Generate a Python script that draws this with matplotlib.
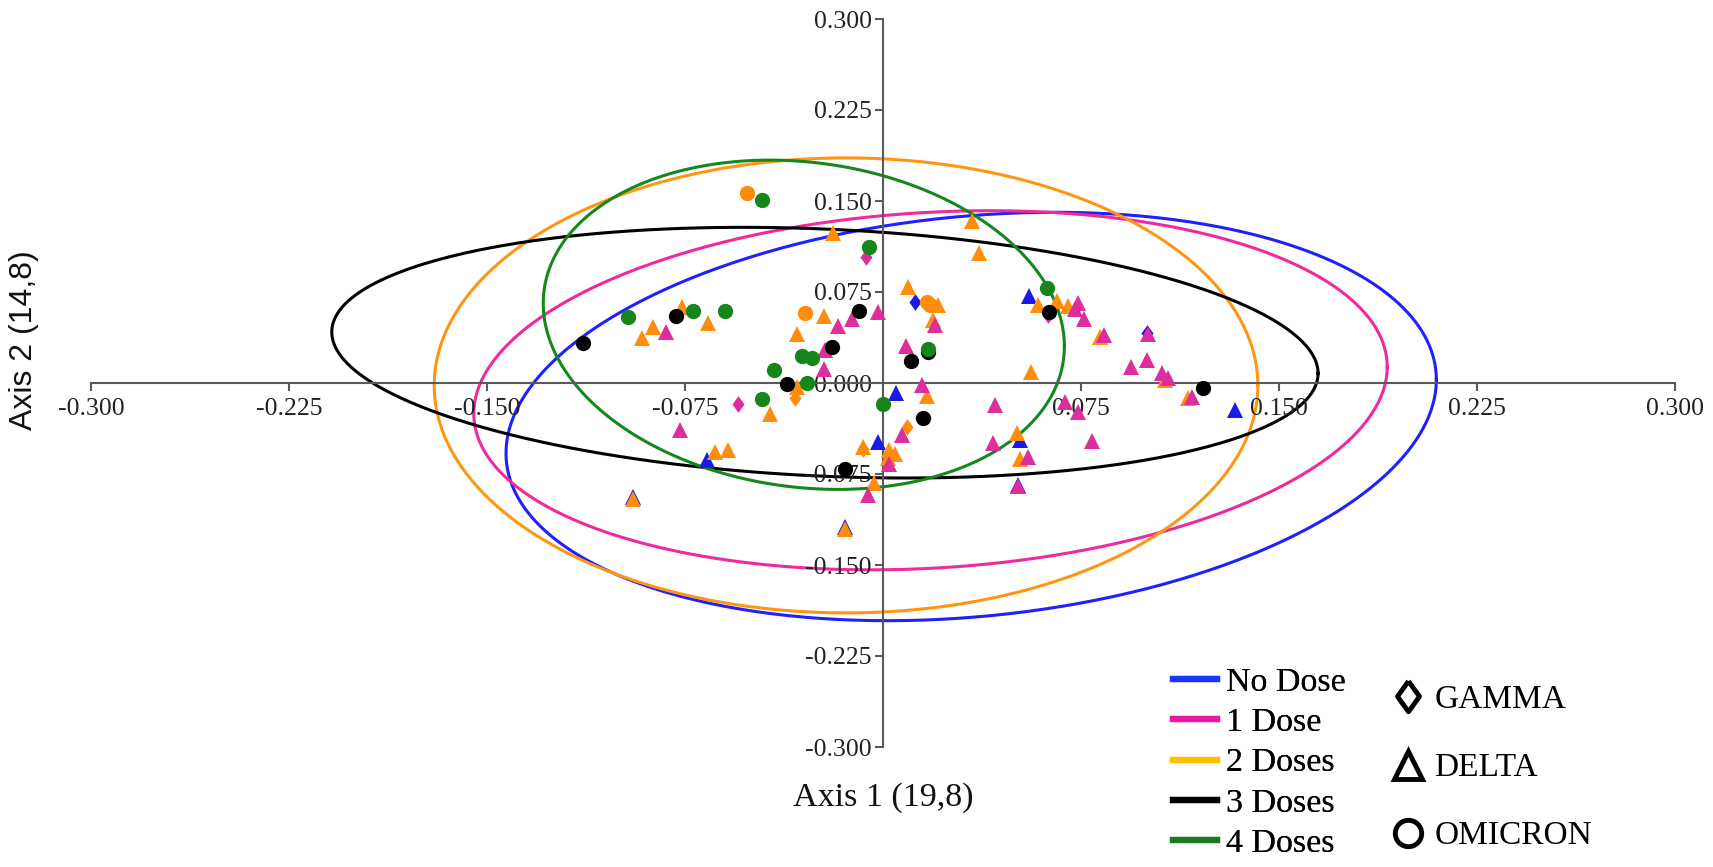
import numpy as np
import matplotlib
matplotlib.use("Agg")
import matplotlib.pyplot as plt
from matplotlib.lines import Line2D

# ---- data ----
groups = ["No Dose", "1 Dose", "2 Doses", "3 Doses", "4 Doses"]
pt_colors = ["#1a1ae8", "#dc2e9c", "#ff8c0a", "#000000", "#16861a"]
ell_colors = ["#1f1fff", "#ee2a9e", "#ff9612", "#000000", "#14881a"]
leg_colors = ["#1a35ff", "#e8199e", "#ffc000", "#000000", "#1a7a1a"]

# confidence ellipses: centre, half width, half height, tilt (sin of phase)
ell_cx = [0.0334, 0.018, -0.014, -0.022, -0.030]
ell_cy = [-0.0276, -0.006, -0.002, 0.025, 0.048]
ell_rx = [0.1762, 0.173, 0.156, 0.1868, 0.0987]
ell_ry = [0.1683, 0.148, 0.1875, 0.1033, 0.1357]
ell_tilt = [0.18, 0.13, 0.0, -0.165, -0.13]

# No Dose
nd_gamma_x = [0.0121, 0.1000]
nd_gamma_y = [0.0670, 0.0415]
nd_delta_x = [0.0554, 0.0049, -0.0018, 0.0519, 0.0513, 0.1333, -0.0665, -0.0948, -0.0144]
nd_delta_y = [0.0717, -0.0085, -0.0489, -0.0470, -0.0841, -0.0223, -0.0635, -0.0942, -0.1185]

# 1 Dose
d1_gamma_x = [-0.0066, 0.0626, -0.0548]
d1_gamma_y = [0.1036, 0.0560, -0.0173]
d1_delta_x = [-0.0822, -0.0769, 0.0740, 0.0727, 0.0761, 0.0837, 0.0938, 0.0999, 0.1002,
              0.1056, 0.1080, 0.1169, 0.0197, -0.0018, -0.0116, -0.0169, -0.0220, -0.0222,
              0.0086, 0.0149, 0.0073, 0.0424, 0.0689, 0.0740, 0.0790, 0.0418, 0.0551,
              0.0513, 0.0024, -0.0056]
d1_delta_y = [0.0423, -0.0387, 0.0657, 0.0608, 0.0525, 0.0396, 0.0135, 0.0190, 0.0400,
              0.0085, 0.0039, -0.0113, 0.0478, 0.0588, 0.0525, 0.0472, 0.0272, 0.0115,
              0.0305, -0.0016, -0.0429, -0.0181, -0.0160, -0.0237, -0.0476, -0.0497, -0.0607,
              -0.0850, -0.0668, -0.0923]

# 2 Doses
d2_omicron_x = [-0.0516, -0.0295, 0.0165, 0.0178]
d2_omicron_y = [0.1569, 0.0580, 0.0670, 0.0643]
d2_gamma_x = [-0.0333, 0.0090, -0.0077]
d2_gamma_y = [-0.0126, -0.0365, -0.0544]
d2_delta_x = [-0.0914, -0.0870, -0.0763, -0.0662, -0.0190, 0.0336, 0.0365, 0.0589, 0.0658,
              0.0702, 0.0822, 0.0093, 0.0210, 0.0190, -0.0222, -0.0325, -0.0327, -0.0428,
              0.0165, -0.0075, 0.0561, 0.0506, 0.0519, 0.1155, 0.1070, -0.0636, -0.0589,
              -0.0948, 0.0024, 0.0045, 0.0020, -0.0034, -0.0144]
d2_delta_y = [0.0368, 0.0464, 0.0630, 0.0497, 0.1239, 0.1338, 0.1069, 0.0643, 0.0679,
              0.0635, 0.0382, 0.0794, 0.0643, 0.0520, 0.0555, 0.0404, -0.0036, -0.0256,
              -0.0107, -0.0525, 0.0093, -0.0415, -0.0629, -0.0125, 0.0025, -0.0566, -0.0552,
              -0.0960, -0.0552, -0.0585, -0.0621, -0.0827, -0.1200]

# 3 Doses
d3_omicron_x = [-0.1135, -0.0784, -0.0091, -0.0194, -0.0362, 0.0105, 0.0172, 0.0153, 0.0630, 0.1211, -0.0144]
d3_omicron_y = [0.0332, 0.0555, 0.0596, 0.0299, -0.0008, 0.0184, 0.0253, -0.0291, 0.0588, -0.0044, -0.0709]

# 4 Doses
d4_omicron_x = [-0.0965, -0.0721, -0.0598, -0.0457, -0.0053, 0.0620, -0.0308, -0.0270, -0.0413,
                -0.0287, -0.0457, 0.0172, -0.0001]
d4_omicron_y = [0.0547, 0.0596, 0.0596, 0.1509, 0.1119, 0.0780, 0.0225, 0.0204, 0.0107,
                -0.0003, -0.0135, 0.0280, -0.0173]

xticks = [-0.3, -0.225, -0.15, -0.075, 0.075, 0.15, 0.225, 0.3]
xticklabels = ["-0.300", "-0.225", "-0.150", "-0.075", "0.075", "0.150", "0.225", "0.300"]
yticks = [-0.3, -0.225, -0.15, -0.075, 0.0, 0.075, 0.15, 0.225, 0.3]
yticklabels = ["-0.300", "-0.225", "-0.150", "-0.075", "0.000", "0.075", "0.150", "0.225", "0.300"]

variants = ["GAMMA", "DELTA", "OMICRON"]

serif = "Liberation Serif"
diamond = [(0, 1), (0.72, 0), (0, -1), (-0.72, 0), (0, 1)]

fig = plt.figure(figsize=(17.13, 8.67), dpi=100)
ax = fig.add_axes([91 / 1713, 120 / 867, 1584 / 1713, 728 / 867])
ax.set_xlim(-0.3, 0.3)
ax.set_ylim(-0.3, 0.3)

# ellipses
t = np.linspace(0, 2 * np.pi, 500)
for i in range(len(groups)):
    phi = np.arcsin(ell_tilt[i])
    ex = ell_cx[i] + ell_rx[i] * np.cos(t)
    ey = ell_cy[i] + ell_ry[i] * np.sin(t + phi)
    ax.plot(ex, ey, color=ell_colors[i], lw=2.2, zorder=1)

# points
kw = dict(linestyle="none", markeredgewidth=0, zorder=3)
ax.plot(nd_gamma_x, nd_gamma_y, marker=diamond, ms=12, color=pt_colors[0], **kw)
ax.plot(nd_delta_x, nd_delta_y, marker="^", ms=11, color=pt_colors[0], **kw)
ax.plot(d2_gamma_x, d2_gamma_y, marker=diamond, ms=12, color=pt_colors[2], **kw)
ax.plot(d2_delta_x, d2_delta_y, marker="^", ms=11, color=pt_colors[2], **kw)
ax.plot(d2_omicron_x, d2_omicron_y, marker="o", ms=11, color=pt_colors[2], **kw)
ax.plot(d1_gamma_x, d1_gamma_y, marker=diamond, ms=12, color=pt_colors[1], **kw)
ax.plot(d1_delta_x, d1_delta_y, marker="^", ms=11, color=pt_colors[1], **kw)
ax.plot(d3_omicron_x, d3_omicron_y, marker="o", ms=11, color=pt_colors[3], **kw)
ax.plot(d4_omicron_x, d4_omicron_y, marker="o", ms=11, color=pt_colors[4], **kw)

# axes through the origin
for s in ["top", "right"]:
    ax.spines[s].set_visible(False)
ax.spines["left"].set_position(("data", 0))
ax.spines["bottom"].set_position(("data", 0))
for s in ["left", "bottom"]:
    ax.spines[s].set_color("#5a5a5a")
    ax.spines[s].set_linewidth(1.5)
ax.set_xticks(xticks)
ax.set_xticklabels(xticklabels, fontfamily=serif, fontsize=18.5)
ax.set_yticks(yticks)
ax.set_yticklabels(yticklabels, fontfamily=serif, fontsize=18.5)
ax.tick_params(axis="both", direction="out", length=6, width=1.5, color="#5a5a5a", labelcolor="#222222")
ax.tick_params(axis="x", pad=5)
ax.tick_params(axis="y", pad=2)
ax.patch.set_visible(False)

fig.text(883 / 1713, 1 - 798 / 867, "Axis 1 (19,8)", fontfamily=serif, fontsize=24.5,
         ha="center", va="center", color="#111111")
fig.text(24 / 1713, 1 - 340 / 867, "Axis 2 (14,8)", fontfamily="Liberation Sans", fontsize=23,
         rotation=90, ha="center", va="center", color="#111111")

# legends
h1 = [Line2D([], [], color=c, lw=4.5) for c in leg_colors]
leg1 = fig.legend(h1, groups, loc="center left", bbox_to_anchor=(1173 / 1713, 1 - 763 / 867),
                  frameon=False, prop={"family": serif, "size": 24.5}, handlelength=1.3,
                  handletextpad=0.25, labelspacing=0.28, borderpad=0, borderaxespad=0)
mk = [diamond, "^", "o"]
msz = [22, 20, 19]
h2 = [Line2D([], [], linestyle="none", marker=mk[i], ms=msz[i], markerfacecolor="white",
             markeredgecolor="black", markeredgewidth=3.5) for i in range(3)]
leg2 = fig.legend(h2, variants, loc="center left", bbox_to_anchor=(1391 / 1713, 1 - 768 / 867),
                  frameon=False, prop={"family": serif, "size": 24}, handlelength=1.0,
                  handletextpad=0.3, labelspacing=1.13, borderpad=0, borderaxespad=0)
fig.add_artist(leg1)

fig.savefig("out.png", dpi=100, facecolor="white")
